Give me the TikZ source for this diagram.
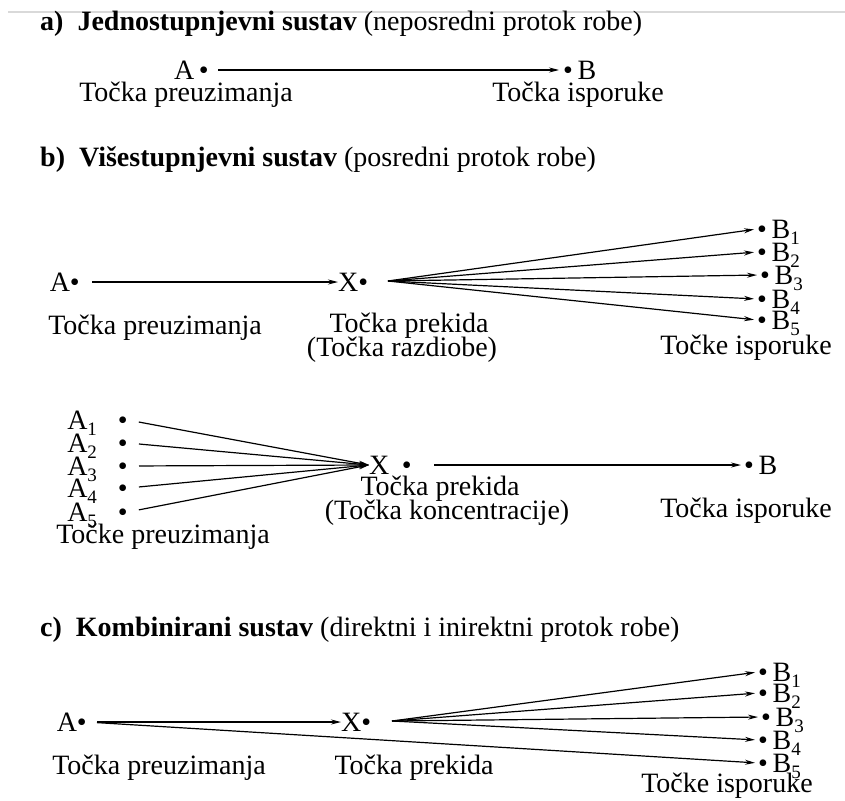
\documentclass[tikz,border=0pt]{standalone}
\usepackage{fontspec}
\setmainfont{Liberation Serif}
\usetikzlibrary{arrows.meta}
\newcommand{\low}[1]{\raisebox{-0.2em}{\fontsize{19}{20}\selectfont#1}}

\begin{document}
\begin{tikzpicture}[x=1pt, y=-1pt,
    txt/.style={inner sep=0pt, font=\fontsize{28}{32}\selectfont},
    pnt/.style={txt, text height=19pt, text depth=0pt},
    title/.style={txt, anchor=base west},
    flow/.style={line width=1.2pt, -{Stealth[length=10pt, width=5pt]}}]
  \useasboundingbox (0,0) rectangle (845,800);
  \draw[black!15, line width=1.5pt] (8,12) -- (845,12);

  % a) jednostupnjevni sustav
  \node[title] (ta) at (40,31) {\textbf{a)\enspace Jednostupnjevni sustav} (neposredni protok robe)};
  \node[pnt, anchor=east] (aA) at (209,70) {A\,\textbullet};
  \node[pnt, anchor=west] (aB) at (563,70) {\textbullet\,B};
  \draw[flow, shorten <=9pt, shorten >=4pt] (aA.east) -- (aB.west);
  \node[txt] (aL1) at (186,95) {Točka preuzimanja};
  \node[txt] (aL2) at (578,95) {Točka isporuke};

  % b) visestupnjevni sustav, razdioba
  \node[title] (tb) at (40,166) {\textbf{b)\enspace Višestupnjevni sustav} (posredni protok robe)};
  \node[pnt, anchor=east] (bA) at (80,282) {A\textbullet};
  \node[pnt, anchor=west] (bX) at (338,282) {X\textbullet};
  \coordinate (bF) at (388,281);
  \foreach \i/\x/\y in {1/757/229, 2/757/252, 3/760/275, 4/757/299, 5/757/320}
    \node[pnt, anchor=west] (bB\i) at (\x,\y) {\textbullet\,B\low{\i}};
  \draw[flow, shorten <=12pt] (bA.east) -- (bX.west);
  \foreach \i in {1,...,5}
    \draw[flow, shorten >=3pt] (bF) -- (bB\i.west);
  \node[txt] (bL1) at (155,328) {Točka preuzimanja};
  \node[txt] (bL2) at (409,326) {Točka prekida};
  \node[txt] (bL3) at (402,350) {(Točka razdiobe)};
  \node[txt] (bL4) at (746,348) {Točke isporuke};

  % b) visestupnjevni sustav, koncentracija
  \foreach \i/\y in {1/420, 2/443, 3/466, 4/488, 5/512}
    \node[pnt, anchor=east] (kA\i) at (128,\y) {A\low{\i}\hspace{0.75em}\textbullet};
  \node[pnt, anchor=west] (kX) at (369,465) {X\hspace{0.45em}\textbullet};
  \node[pnt, anchor=west] (kB) at (744,465) {\textbullet\,B};
  \foreach \i in {1,...,5}
    \draw[flow, shorten <=11pt] (kA\i.east) -- (kX.west);
  \draw[flow, shorten <=22pt, shorten >=3pt] (kX.east) -- (kB.west);
  \node[txt] (kL1) at (440,489) {Točka prekida};
  \node[txt] (kL2) at (447,513) {(Točka koncentracije)};
  \node[txt] (kL3) at (746,511) {Točka isporuke};
  \node[txt] (kL4) at (163,537) {Točke preuzimanja};

  % c) kombinirani sustav
  \node[title] (tc) at (40,636) {\textbf{c)\enspace Kombinirani sustav} (direktni i inirektni protok robe)};
  \node[pnt, anchor=east] (cA) at (87,722) {A\textbullet};
  \node[pnt, anchor=west] (cX) at (341,722) {X\textbullet};
  \coordinate (cF) at (392,721);
  \foreach \i/\x/\y in {1/758/672, 2/758/693, 3/761/717, 4/758/740, 5/758/763}
    \node[pnt, anchor=west] (cB\i) at (\x,\y) {\textbullet\,B\low{\i}};
  \draw[flow, shorten <=10pt] (cA.east) -- (cX.west);
  \draw[flow, shorten <=10pt, shorten >=3pt] (cA.east) -- (cB5.west);
  \foreach \i in {1,...,4}
    \draw[flow, shorten >=3pt] (cF) -- (cB\i.west);
  \node[txt] (cL1) at (159,768) {Točka preuzimanja};
  \node[txt] (cL2) at (414,768) {Točka prekida};
  \node[txt] (cL3) at (727,786) {Točke isporuke};
\end{tikzpicture}
\end{document}
